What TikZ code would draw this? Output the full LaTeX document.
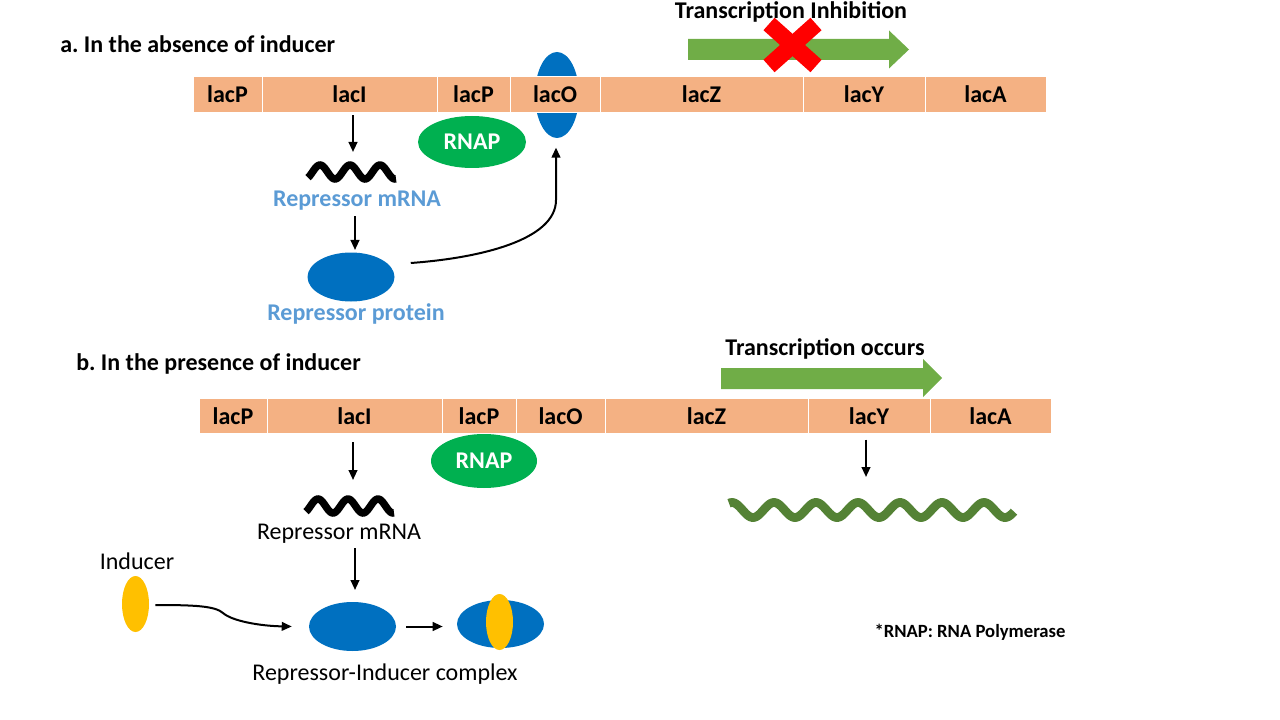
\documentclass[tikz,border=0pt]{standalone}
\usepackage{fontspec}
\setmainfont{Carlito}
\usetikzlibrary{arrows.meta,shapes.geometric,calc}
\definecolor{barfill}{HTML}{F4B183}
\definecolor{repblue}{HTML}{0070C0}
\definecolor{rnapgreen}{HTML}{00B050}
\definecolor{arrowgreen}{HTML}{70AD47}
\definecolor{txtblue}{HTML}{5B9BD5}
\definecolor{indyellow}{HTML}{FFC000}
\definecolor{mrnagreen}{HTML}{548235}
\definecolor{xred}{HTML}{FF0000}
\frenchspacing
\begin{document}
\begin{tikzpicture}[x=0.75pt,y=-0.75pt,
  big/.style={font=\fontsize{18}{22}\selectfont},
  bigb/.style={font=\fontsize{18}{22}\selectfont\bfseries},
  seg/.style={draw=white,line width=0.75pt,fill=barfill,minimum height=35.5*0.75pt,inner sep=0pt,bigb},
  blob/.style={ellipse,inner sep=0pt,draw=none},
  lbl/.style={inner sep=0pt,anchor=base},
  conn/.style={line width=1.5pt,-{Triangle[length=7.5pt,width=6.5pt]}},
  squig/.style={line width=5.6pt,line cap=butt},
]
\useasboundingbox (0,0) rectangle (1280,720);

% ---------------- part a ----------------
\node[lbl,anchor=base west,bigb] (ta) at (60,53) {a. In the absence of inducer};

\node[lbl,bigb] (tti) at (791,19) {Transcription Inhibition};
\fill[arrowgreen] (688,39) -- (889,39) -- (889,30.5) -- (909,49.5) -- (889,68.5) -- (889,60) -- (688,60) -- cycle;
\draw[xred,line width=12.5pt,line cap=butt] (769,24) -- (816,66);
\draw[xred,line width=12.5pt,line cap=butt] (816,24) -- (769,66);

\node[blob,fill=repblue,minimum width=44*0.75pt,minimum height=86*0.75pt] (op) at (557,95) {};

\node[seg,minimum width=69*0.75pt]  (t1) at (227.5,94.5) {lacP};
\node[seg,minimum width=175*0.75pt] (t2) at (349.5,94.5) {lacI};
\node[seg,minimum width=73*0.75pt]  (t3) at (473.5,94.5) {lacP};
\node[seg,minimum width=90*0.75pt]  (t4) at (555,94.5) {lacO};
\node[seg,minimum width=203*0.75pt] (t5) at (701.5,94.5) {lacZ};
\node[seg,minimum width=122*0.75pt] (t6) at (864,94.5) {lacY};
\node[seg,minimum width=121*0.75pt] (t7) at (985.5,94.5) {lacA};

\node[blob,fill=rnapgreen,minimum width=108*0.75pt,minimum height=52*0.75pt,text=white,bigb] (rnapA) at (472,142) {RNAP};

\coordinate (sqA) at (353,152);
\draw[conn,shorten <=2pt] (t2.south -| sqA) -- (sqA);
\draw[squig] plot[domain=308:396,samples=80,smooth] (\x,{172-7*cos(12*(\x-320))});

\node[lbl,bigb,text=txtblue] (bm) at (357,207) {Repressor mRNA};
\node[blob,fill=repblue,minimum width=87*0.75pt,minimum height=49*0.75pt] (rp) at (351,277) {};
\coordinate (axA) at (355,250);
\draw[conn,shorten <=4pt] (bm.south -| axA) -- (axA);
\node[lbl,bigb,text=txtblue] (bp) at (356,320) {Repressor protein};

\draw[conn] ($(rp.east)+(16,-14)$) .. controls (480,258) and (556,240) .. (556,200) -- ([xshift=-0.75pt,yshift=-7pt]op.south);

% ---------------- part b ----------------
\node[lbl,anchor=base west,bigb] (tb) at (76,370) {b. In the presence of inducer};

\node[lbl,bigb] (tto) at (825,355) {Transcription occurs};
\fill[arrowgreen] (721,368) -- (923,368) -- (923,359) -- (942,378) -- (923,397) -- (923,389) -- (721,389) -- cycle;

\node[seg,minimum width=68*0.75pt]  (b1) at (233,416) {lacP};
\node[seg,minimum width=175*0.75pt] (b2) at (354.5,416) {lacI};
\node[seg,minimum width=74*0.75pt]  (b3) at (479,416) {lacP};
\node[seg,minimum width=89*0.75pt]  (b4) at (560.5,416) {lacO};
\node[seg,minimum width=203*0.75pt] (b5) at (706.5,416) {lacZ};
\node[seg,minimum width=122*0.75pt] (b6) at (869,416) {lacY};
\node[seg,minimum width=121*0.75pt] (b7) at (990.5,416) {lacA};

\node[blob,fill=rnapgreen,minimum width=106*0.75pt,minimum height=54*0.75pt,text=white,bigb] (rnapB) at (484,461) {RNAP};

\coordinate (sqB) at (353,480);
\draw[conn,shorten <=6pt] (b2.south -| sqB) -- (sqB);
\draw[squig] plot[domain=306:394,samples=80,smooth] (\x,{506-7*cos(12*(\x-318))});
\node[lbl,big] (bmr) at (339,539) {Repressor mRNA};

\coordinate (sqG) at (866,477);
\draw[conn,shorten <=4pt] (b6.south -| sqG) -- (sqG);
\draw[squig,mrnagreen,line width=6.6pt] plot[domain=729:1014,samples=200,smooth] (\x,{510-7.5*cos(8.5714*(\x-732))});

\node[lbl,big] (tind) at (137,569) {Inducer};
\node[blob,fill=indyellow,minimum width=27*0.75pt,minimum height=56*0.75pt] (ind) at (135.5,604) {};

\node[blob,fill=repblue,minimum width=87*0.75pt,minimum height=49*0.75pt] (rpB) at (352.5,626.5) {};
\coordinate (axB) at (355,590);
\draw[conn,shorten <=4pt] (bmr.south -| axB) -- (axB);

\draw[conn] ($(ind.east)+(6,1)$) .. controls (195,605) and (215,606) .. (223,613) .. controls (232,621) and (260,626) .. ($(rpB.west)+(-17,0)$);

\node[blob,fill=repblue,minimum width=87*0.75pt,minimum height=48*0.75pt] (cxB) at (500.5,624) {};
\node[blob,fill=indyellow,minimum width=27*0.75pt,minimum height=56*0.75pt] (cxY) at (499.5,622) {};
\draw[conn,shorten <=7.5pt,shorten >=10.5pt] (rpB.east) -- (rpB.east -| cxB.west);

\node[lbl,big] (tcx) at (385,680) {Repressor-Inducer complex};

\node[lbl,font=\fontsize{14}{17}\selectfont\bfseries] (note) at (970,637) {*RNAP: RNA Polymerase};
\end{tikzpicture}
\end{document}
